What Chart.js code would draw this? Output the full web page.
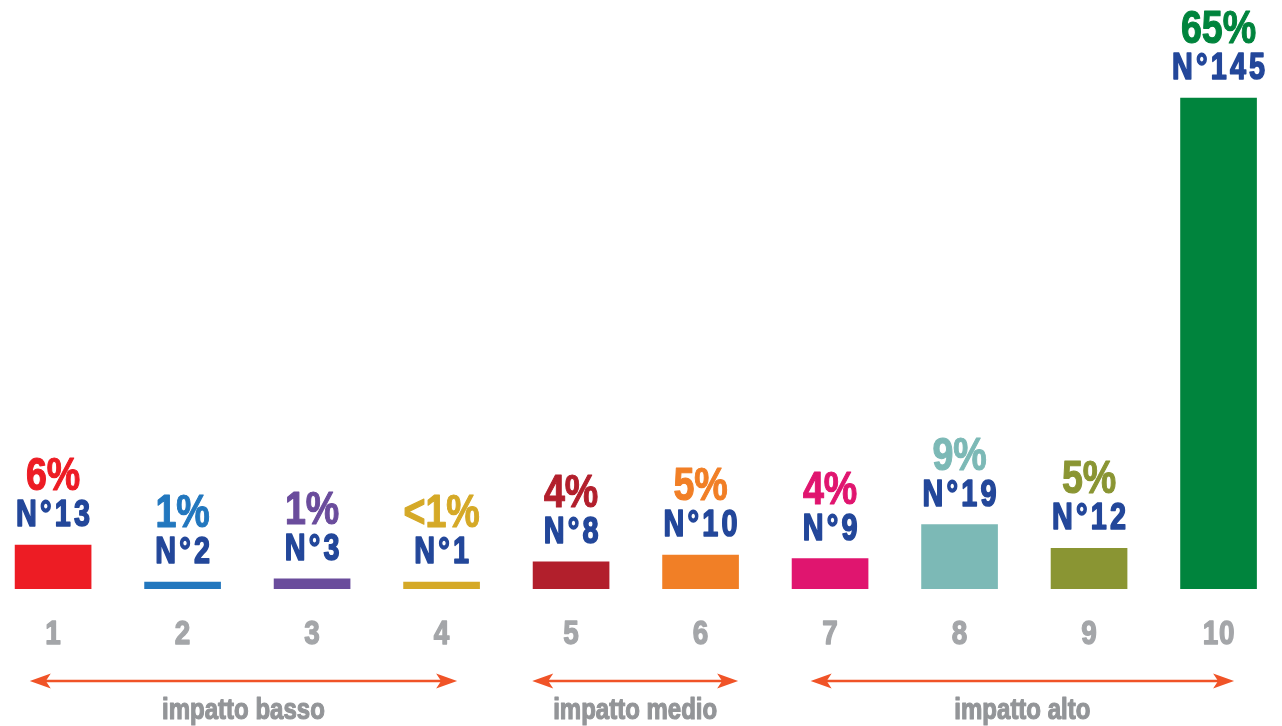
<!DOCTYPE html>
<html>
<head>
<meta charset="utf-8">
<script src="https://cdn.jsdelivr.net/npm/chart.js@4/dist/chart.umd.min.js"></script>
<style>
  html, body { margin: 0; padding: 0; background: #ffffff; }
  #wrap { width: 1282px; height: 726px; position: relative; }
</style>
</head>
<body>
<div id="wrap"><canvas id="c"></canvas></div>
<script>
// ---- data ----
const categories = [1, 2, 3, 4, 5, 6, 7, 8, 9, 10];
const counts = [13, 2, 3, 1, 8, 10, 9, 19, 12, 145];
const percentLabels = ['6%', '1%', '1%', '<1%', '4%', '5%', '4%', '9%', '5%', '65%'];
const countLabels = ['N°13', 'N°2', 'N°3', 'N°1', 'N°8', 'N°10', 'N°9', 'N°19', 'N°12', 'N°145'];
const groupLabels = ['impatto basso', 'impatto medio', 'impatto alto'];
const groupFrom = [1, 5, 7];
const groupTo = [4, 6, 10];

// ---- styles ----
const barColors = ['#ED1C24', '#2277BE', '#6A4C9C', '#D5A927', '#B21F2C', '#F17F26', '#E0156F', '#7CB9B6', '#8A9533', '#00843D'];
const countColor = '#23479A';
const tickColor = '#A4A6A9';
const groupColor = '#939598';
const arrowColor = '#F05327';
const FONT = '"Liberation Sans", Arial, sans-serif';
const arrowPad = [[-0.18, 0.12], [-0.3, 0.29], [-0.15, 0.12]];

function narrowText(ctx, text, x, y, size, sx, spacing, strokeW) {
  ctx.save();
  ctx.font = 'bold ' + size + 'px ' + FONT;
  ctx.textAlign = 'left';
  let w = 0;
  const chars = Array.from(text);
  const widths = chars.map(ch => ctx.measureText(ch).width);
  widths.forEach((cw, k) => { w += cw + (k < chars.length - 1 ? spacing : 0); });
  ctx.translate(x, y);
  ctx.scale(sx, 1);
  ctx.strokeStyle = ctx.fillStyle;
  ctx.lineWidth = strokeW || 0;
  ctx.lineJoin = 'round';
  let cx = -w / 2;
  chars.forEach((ch, k) => {
    ctx.fillText(ch, cx, 0);
    if (strokeW) ctx.strokeText(ch, cx, 0);
    cx += widths[k] + spacing;
  });
  ctx.restore();
}

const labelsPlugin = {
  id: 'labelsPlugin',
  afterDatasetsDraw(chart) {
    const ctx = chart.ctx;
    const meta = chart.getDatasetMeta(0);
    const xs = chart.scales.x;
    const bottom = chart.chartArea.bottom;
    ctx.save();
    ctx.textBaseline = 'alphabetic';
    meta.data.forEach((el, i) => {
      const x = el.x;
      const top = el.y;
      ctx.fillStyle = countColor;
      narrowText(ctx, countLabels[i], x, top - 19, 36, 0.8, 4, 1.6);
      ctx.fillStyle = barColors[i];
      narrowText(ctx, percentLabels[i], x, top - 55, 47, 0.8, 0, 1.2);
    });
    // category labels
    ctx.fillStyle = tickColor;
    categories.forEach((c) => {
      narrowText(ctx, String(c), xs.getPixelForValue(c), bottom + 55, 34, 0.82, 1, 1.4);
    });
    // group arrows
    const ay = bottom + 92;
    groupLabels.forEach((lab, g) => {
      const x1 = xs.getPixelForValue(groupFrom[g] + arrowPad[g][0]);
      const x2 = xs.getPixelForValue(groupTo[g] + arrowPad[g][1]);
      ctx.strokeStyle = arrowColor;
      ctx.fillStyle = arrowColor;
      ctx.lineWidth = 2.5;
      ctx.beginPath();
      ctx.moveTo(x1 + 10, ay);
      ctx.lineTo(x2 - 10, ay);
      ctx.stroke();
      [[x1, 1], [x2, -1]].forEach(([tx, d]) => {
        ctx.beginPath();
        ctx.moveTo(tx, ay);
        ctx.lineTo(tx + d * 21, ay - 7.5);
        ctx.lineTo(tx + d * 16, ay);
        ctx.lineTo(tx + d * 21, ay + 7.5);
        ctx.closePath();
        ctx.fill();
      });
      ctx.fillStyle = groupColor;
      narrowText(ctx, lab, (x1 + x2) / 2, bottom + 130, 30, 0.8, 0, 1.2);
    });
    ctx.restore();
  }
};

new Chart(document.getElementById('c'), {
  type: 'bar',
  data: {
    datasets: [{
      data: categories.map((c, i) => ({ x: c, y: counts[i] })),
      backgroundColor: barColors,
      borderWidth: 0,
      barThickness: 76,
      minBarLength: 7
    }]
  },
  options: {
    responsive: true,
    maintainAspectRatio: false,
    animation: false,
    layout: { padding: { top: 0, bottom: 137, left: 0, right: 0 } },
    scales: {
      x: { type: 'linear', min: 0.59, max: 10.49, offset: false, display: false },
      y: { min: 0, max: 174, display: false }
    },
    plugins: { legend: { display: false }, tooltip: { enabled: false } }
  },
  plugins: [labelsPlugin]
});
</script>
</body>
</html>
